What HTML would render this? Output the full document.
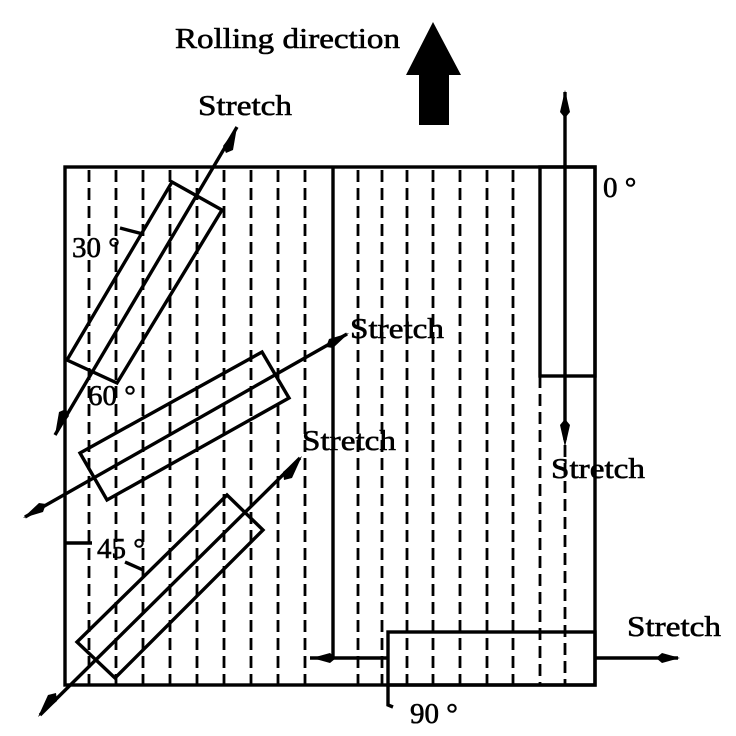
<!DOCTYPE html>
<html><head><meta charset="utf-8"><style>html,body{margin:0;padding:0;background:#fff}svg{display:block}text{font-family:"Liberation Serif",serif;fill:#000;stroke:#000;stroke-width:0.6}</style></head>
<body>
<svg width="736" height="736" viewBox="0 0 736 736" xmlns="http://www.w3.org/2000/svg">
<g stroke="#000" stroke-width="2.8" stroke-dasharray="12 6" fill="none">
<line x1="89" y1="170" x2="89" y2="684"/>
<line x1="116" y1="170" x2="116" y2="684"/>
<line x1="143" y1="170" x2="143" y2="684"/>
<line x1="170" y1="170" x2="170" y2="684"/>
<line x1="197" y1="170" x2="197" y2="684"/>
<line x1="224" y1="170" x2="224" y2="684"/>
<line x1="251" y1="170" x2="251" y2="684"/>
<line x1="278" y1="170" x2="278" y2="684"/>
<line x1="305" y1="170" x2="305" y2="684"/>
<line x1="358" y1="170" x2="358" y2="684"/>
<line x1="382" y1="170" x2="382" y2="684"/>
<line x1="407" y1="170" x2="407" y2="684"/>
<line x1="433" y1="170" x2="433" y2="684"/>
<line x1="460" y1="170" x2="460" y2="684"/>
<line x1="487" y1="170" x2="487" y2="684"/>
<line x1="513" y1="170" x2="513" y2="684"/>
<line x1="540" y1="376" x2="540" y2="684"/>
<line x1="565" y1="445" x2="565" y2="684"/>
</g>
<g stroke="#000" stroke-width="3.4" fill="none">
<rect x="65" y="167" width="530" height="518"/>
<line x1="333" y1="167" x2="333" y2="658"/>
<rect x="540" y="167" width="55" height="209"/>
<rect x="388" y="632" width="207" height="53"/>
<polygon points="172,182 222,210 117,383 67,360"/>
<polygon points="262,352 289,398 107,500 80,453"/>
<polygon points="227,495 263,530 115,678 77,642"/>
<line x1="237" y1="127" x2="55" y2="435"/>
<line x1="25" y1="517" x2="347" y2="334"/>
<line x1="40" y1="715" x2="300" y2="458"/>
<line x1="565" y1="92" x2="565" y2="440"/>
<line x1="310" y1="658" x2="388" y2="658"/>
<line x1="595" y1="658" x2="678" y2="658"/>
<polyline points="388,686 388,705 393,707"/>
<line x1="120" y1="228" x2="143" y2="234"/>
<line x1="65" y1="543" x2="92" y2="543"/>
<line x1="125" y1="562" x2="143" y2="570"/>
</g>
<g fill="#000">
<polygon points="433,22 461,75 449,75 449,125 419,125 419,75 406,75"/>
<polygon points="565,90 570,112 565,118 560,112"/>
<polygon points="565,447 570,425 565,419 560,425"/>
<polygon points="312,658 330,653 336,658 330,663"/>
<polygon points="680,658 662,653 656,658 662,663"/>
<polygon points="237,127 233,150 226,153 223,146"/>
<polygon points="55,435 59,412 66,409 69,416"/>
<polygon points="349,333 333,348 326,347 329,339"/>
<polygon points="23,518 39,503 46,504 43,512"/>
<polygon points="302,456 292,478 284,480 283,472"/>
<polygon points="38,717 48,695 56,693 57,701"/>
</g>
<text x="175" y="48" font-size="29" textLength="225" lengthAdjust="spacingAndGlyphs">Rolling direction</text>
<text x="198" y="115" font-size="29" textLength="94" lengthAdjust="spacingAndGlyphs">Stretch</text>
<text x="350" y="338" font-size="29" textLength="94" lengthAdjust="spacingAndGlyphs">Stretch</text>
<text x="302" y="450" font-size="29" textLength="94" lengthAdjust="spacingAndGlyphs">Stretch</text>
<text x="551" y="478" font-size="29" textLength="94" lengthAdjust="spacingAndGlyphs">Stretch</text>
<text x="627" y="636" font-size="29" textLength="94" lengthAdjust="spacingAndGlyphs">Stretch</text>
<text x="603" y="197" font-size="29">0 °</text>
<text x="72" y="257" font-size="29">30 °</text>
<text x="88" y="405" font-size="29">60 °</text>
<text x="97" y="558" font-size="29">45 °</text>
<text x="410" y="723" font-size="29">90 °</text>
</svg>
</body></html>
